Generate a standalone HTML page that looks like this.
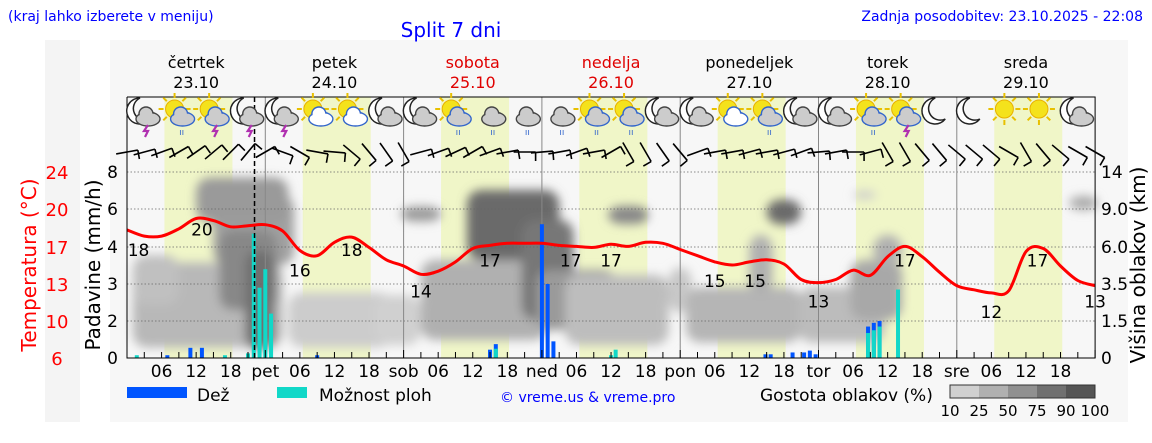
<!DOCTYPE html>
<html><head><meta charset="utf-8">
<style>
body{margin:0;width:1152px;height:443px;background:#fff;overflow:hidden;font-family:"DejaVu Sans","Liberation Sans",sans-serif}
svg{display:block}
</style></head>
<body>
<svg id="c" width="1152" height="443" viewBox="0 0 1152 443">
<defs>
<filter id="bl" x="-30%" y="-30%" width="160%" height="160%"><feGaussianBlur stdDeviation="5"/></filter>
</defs>
<rect x="110" y="40" width="1018" height="382" fill="#f7f7f7"/>
<rect x="45" y="40" width="35" height="382" fill="#f4f4f4"/>
<text x="8" y="21" font-size="14" fill="#0000ff">(kraj lahko izberete v meniju)</text>
<text x="451" y="37" font-size="20" fill="#0000ff" text-anchor="middle">Split 7 dni</text>
<text x="1143" y="21" font-size="14" fill="#0000ff" text-anchor="end">Zadnja posodobitev: 23.10.2025 - 22:08</text>
<g id="g"></g>
</svg>
<script>
const dayNames=["četrtek","petek","sobota","nedelja","ponedeljek","torek","sreda"];
const dayDates=["23.10","24.10","25.10","26.10","27.10","28.10","29.10"];
const dayShort=["pet","sob","ned","pon","tor","sre"];
const weekend=[false,false,true,true,false,false,false];
const tempHours=[0,3,6,9,12,15,18,21,24,27,30,33,36,39,42,45,48,51,54,57,60,63,66,69,72,75,78,81,84,87,90,93,96,99,102,105,108,111,114,117,120,123,126,129,132,135,138,141,144,147,150,153,156,159,162,165,168];
const tempVals=[18.4,17.8,17.8,18.5,19.5,19.3,18.7,18.8,18.9,18.3,16.4,15.9,17.2,17.7,16.7,15.5,14.9,14.1,14.4,15.3,16.6,16.9,17.1,17.1,17.1,16.9,16.8,16.7,17.0,16.8,17.2,17.1,16.5,15.9,15.3,15.0,15.3,15.5,15.1,13.6,13.3,13.6,14.5,14.0,15.8,16.8,15.8,14.3,13.0,12.6,12.3,12.5,16.3,16.6,14.9,13.5,13.0];
const tempLabelHours=[2,13,30,39,51,63,77,84,102,109,120,135,150,158,168];
const tempLabelVals=[18,20,16,18,14,17,17,17,15,15,13,17,12,17,13];
const rainHours=[7,11,13,33,63,64,72,73,74,110.8,111.7,115.5,117.5,118.5,119.5,128.6,129.6,130.6];
const rainVals=[0.15,0.55,0.55,0.15,0.45,0.75,5.2,3.0,0.9,0.2,0.2,0.3,0.3,0.4,0.2,1.7,1.9,2.0];
const showerHours=[1.7,17,21,22,23,24,25,64,84,84.8,128.6,129.6,130.6,133.8];
const showerVals=[0.15,0.15,0.25,4.7,2.9,3.4,2.2,0.5,0.15,0.45,1.35,1.5,1.7,2.85];
const precipTicks=[0,2,3,4,6,8];
const heightTicks=["0","1.5","3.5","6.0","9.0","14"];
const tempTicks=[6,10,13,17,20,24];
const iconTypes=["ms","sr","ss","ms","ms","sc","sc","mc","mc","sr","cr","cr","cr","sr","sr","mc","mc","sc","sr","mc","mc","sr","ss","m","m","s","s","mc"];
const windDirs=[80,75,70,60,55,50,45,40,60,110,120,100,95,130,140,145,150,75,70,65,60,70,80,90,85,80,70,80,60,150,150,145,140,70,80,80,75,80,75,70,85,80,90,75,150,150,140,140,130,130,130,120,150,140,130,120,120];
// cloud blobs: [hourCenter, heightY(px), w(hours), h(px), gray]
const clouds=[[14,305,26,85,"#b8b8b8"],[22,230,14,70,"#a0a0a0"],[20,200,16,45,"#9a9a9a"],[21,270,10,80,"#888"],[23,300,5,100,"#6f6f6f"],[5,280,8,50,"#c0c0c0"],
[37,320,18,55,"#cccccc"],[47,320,8,50,"#d0d0d0"],[51,214,7,15,"#9a9a9a"],
[62,300,22,80,"#b0b0b0"],[67,225,16,70,"#6a6a6a"],[73,270,9,100,"#777"],[78,300,14,60,"#9a9a9a"],[85,310,18,70,"#bdbdbd"],[87,215,7,18,"#888"],[96,290,4,45,"#c8c8c8"],
[107,315,20,55,"#b5b5b5"],[110,265,4,60,"#b0b0b0"],[114,212,6,25,"#6a6a6a"],
[124,315,15,55,"#bcbcbc"],[130,290,9,60,"#a8a8a8"],[132,250,5,30,"#b0b0b0"],[128,195,4,8,"#ccc"],[166,203,5,14,"#aaa"]];
const X0=127,DW=138.3,HW=DW/24;
const gridY=[358,321,284,247,209,172];
function xh(h){return X0+h*HW;}
function yP(v){for(let i=1;i<precipTicks.length;i++){if(v<=precipTicks[i]){const a=precipTicks[i-1],b=precipTicks[i];return gridY[i-1]+(v-a)/(b-a)*(gridY[i]-gridY[i-1]);}}return gridY[5];}
function yT(t){return 358-(t-6)*(186/18);}
const NS="http://www.w3.org/2000/svg";const G=document.getElementById('g');
function el(t,a,p){const e=document.createElementNS(NS,t);for(const k in a)e.setAttribute(k,a[k]);(p||G).appendChild(e);return e;}
for(let d=0;d<7;d++){
 const r=el('rect',{x:xh(d*24+6.5),y:97,width:11.8*HW,height:261,fill:"#f0f6c8"});
 
 
 const t1=el('text',{x:X0+DW*(d+0.5),y:68,'font-size':16,'text-anchor':'middle',fill:weekend[d]?"#e00000":"#000"});t1.textContent=dayNames[d];
 
 
 const t2=el('text',{x:X0+DW*(d+0.5),y:88,'font-size':16,'text-anchor':'middle',fill:weekend[d]?"#e00000":"#000"});t2.textContent=dayDates[d];
 
 
}
const cg=el('g',{filter:"url(#bl)"});
clouds.forEach(c=>{const r=el('rect',{x:xh(c[0]-c[2]/2),y:c[1]-c[3]/2,width:c[2]*HW,height:c[3],rx:14,fill:c[4]},cg);
 
 });
gridY.forEach((y,i)=>{const l=el('line',{x1:X0,x2:X0+7*DW,y1:y,y2:y,stroke:"#666",'stroke-dasharray':"1.5,2",'stroke-width':0.8});
 
 
 const a=el('text',{x:118,y:y+6,'font-size':17,'text-anchor':'end'});a.textContent=precipTicks[i];
 
 
 const b=el('text',{x:1101,y:y+6,'font-size':17});b.textContent=heightTicks[i];
 
 
 const c=el('text',{x:57,y:y+7,'font-size':18,'text-anchor':'middle',fill:"#ff0000"});c.textContent=tempTicks[i];
 
 });
for(let d=1;d<7;d++){const l=el('line',{x1:xh(d*24),x2:xh(d*24),y1:97,y2:358,stroke:"#888",'stroke-width':1});
 
 }
rainHours.forEach((h,i)=>{const r=el('rect',{x:xh(h)-2,y:yP(rainVals[i]),width:4,height:358-yP(rainVals[i]),fill:"#0055ff"});
 
 });
showerHours.forEach((h,i)=>{const r=el('rect',{x:xh(h)-2,y:yP(showerVals[i]),width:4,height:358-yP(showerVals[i]),fill:"#11d8c8"});
 
 });
const nl=el('line',{x1:xh(22.13),x2:xh(22.13),y1:97,y2:358,stroke:"#000",'stroke-width':1.5,'stroke-dasharray':"5,3"});


// smooth temperature line (catmull-rom)
const P=tempHours.map((h,i)=>[xh(h),yT(tempVals[i])]);
let d="M"+P[0][0].toFixed(1)+","+P[0][1].toFixed(1);
for(let i=0;i<P.length-1;i++){const p0=P[Math.max(0,i-1)],p1=P[i],p2=P[i+1],p3=P[Math.min(P.length-1,i+2)];
 const c1=[p1[0]+(p2[0]-p0[0])/6,p1[1]+(p2[1]-p0[1])/6],c2=[p2[0]-(p3[0]-p1[0])/6,p2[1]-(p3[1]-p1[1])/6];
 d+=`C${c1[0].toFixed(1)},${c1[1].toFixed(1)} ${c2[0].toFixed(1)},${c2[1].toFixed(1)} ${p2[0].toFixed(1)},${p2[1].toFixed(1)}`;}
const tl=el('path',{d:d,fill:"none",stroke:"#ff0000",'stroke-width':3,'stroke-linejoin':'round'});


tempLabelHours.forEach((h,i)=>{const t=el('text',{x:xh(h),y:yT(tempLabelVals[i])+22,'font-size':17,'text-anchor':'middle'});t.textContent=tempLabelVals[i];
 
 });
const fr=el('path',{d:`M${X0},97 V358 H${X0+7*DW} V97 H${X0}`,fill:"none",stroke:"#000",'stroke-width':1});


for(let h=0;h<=168;h+=3){const tk=el('line',{x1:xh(h),x2:xh(h),y1:358,y2:h%24==0?350:352,stroke:"#000"});
 
 
 if(h%6==0&&h>0&&h<168){const lab=h%24==0?dayShort[h/24-1]:String(h%24).padStart(2,'0');
  const t=el('text',{x:xh(h),y:377,'font-size':17,'text-anchor':'middle'});t.textContent=lab;
  
  }}
windDirs.forEach((a,i)=>{const x=xh(i*3),y=152,rad=a*Math.PI/180,L=22;
 const wg=el('g',{stroke:"#000",'stroke-width':1.6,fill:"none"});
 
 
 const ex=x+L*Math.sin(rad)*0.5,ey=y-L*Math.cos(rad)*0.5;
 const sx=x-L*Math.sin(rad)*0.5,sy=y+L*Math.cos(rad)*0.5;
 el('line',{x1:sx,y1:sy,x2:ex,y2:ey},wg);
 el('line',{x1:ex,y1:ey,x2:ex+9*Math.cos(rad),y2:ey+9*Math.sin(rad)},wg);});
function icon(t,cx,cy){const g=el('g',{});
 const hasSun=t[0]=="s",hasMoon=t[0]=="m";
 if(hasSun){el('circle',{cx:cx-2,cy:cy-5,r:9,fill:"#f4e21c",stroke:"#e8b000"},g);
  for(let k=0;k<8;k++){const a=k*Math.PI/4;el('line',{x1:cx-2+11*Math.cos(a),y1:cy-5+11*Math.sin(a),x2:cx-2+16*Math.cos(a),y2:cy-5+16*Math.sin(a),stroke:"#e8c000",'stroke-width':2},g);}}
 if(hasMoon){el('path',{d:`M${cx-2},${cy-16} A13,13 0 1,0 ${cx+8},${cy+5} A10,10 0 1,1 ${cx-2},${cy-16}Z`,fill:"#fff",stroke:"#222",'stroke-width':1.5},g);}
 if(t!="s"&&t!="m"){const f=t=="sc"?"#fff":"#ccc";const st=t[0]=="s"?"#3366cc":"#444";
  el('ellipse',{cx:cx+6,cy:cy+5,rx:12,ry:7,fill:f,stroke:st,'stroke-width':1.4},g);
  el('circle',{cx:cx+4,cy:cy,r:7,fill:f,stroke:st,'stroke-width':1.4},g);
  el('ellipse',{cx:cx+6,cy:cy+5,rx:11,ry:6,fill:f,stroke:"none"},g);}
 if(t=="ss"||t=="ms"){el('path',{d:`M${cx+6},${cy+11} l-4,6 h4 l-3,6`,stroke:"#b030b0",'stroke-width':2.2,fill:"none"},g);}
 if(t=="sr"||t=="cr"){el('text',{x:cx+5,y:cy+21,'font-size':9,fill:"#3366cc",'text-anchor':'middle'},g).textContent="ıı";}
}
iconTypes.forEach((t,i)=>icon(t,X0+15+i*DW/4,114));
[[127,187,"#0055ff","Dež",197,"legend-rain"],[277,307,"#11d8c8","Možnost ploh",319,"legend-showers"]].forEach(L=>{
 const r=el('rect',{x:L[0],y:387,width:L[1]-L[0],height:11,fill:L[2]});
 const t=el('text',{x:L[4],y:401,'font-size':17});t.textContent=L[3];});
const cp=el('text',{x:500,y:402,'font-size':14,fill:"#0000ff"});cp.textContent="© vreme.us & vreme.pro";


const gl=el('text',{x:760,y:401,'font-size':17});gl.textContent="Gostota oblakov (%)";


const shades=["#d0d0d0","#b0b0b0","#909090","#707070","#555555"],cl=["10","25","50","75","90","100"];
shades.forEach((s,i)=>{const r=el('rect',{x:950+i*29,y:385,width:29,height:13,fill:s});});
el('rect',{x:950,y:385,width:145,height:13,fill:"none",stroke:"#333"});
cl.forEach((c,i)=>{const t=el('text',{x:950+i*29,y:416,'font-size':15,'text-anchor':'middle'});t.textContent=c;});
const a1=el('text',{x:0,y:0,'font-size':20,fill:"#ff0000",'text-anchor':'middle',transform:"translate(36,265) rotate(-90)"});a1.textContent="Temperatura (°C)";


const a2=el('text',{x:0,y:0,'font-size':20,'text-anchor':'middle',transform:"translate(100,265) rotate(-90)"});a2.textContent="Padavine (mm/h)";


const a3=el('text',{x:0,y:0,'font-size':20,'text-anchor':'middle',transform:"translate(1145,265) rotate(-90)"});a3.textContent="Višina oblakov (km)";


</script>
</body></html>
